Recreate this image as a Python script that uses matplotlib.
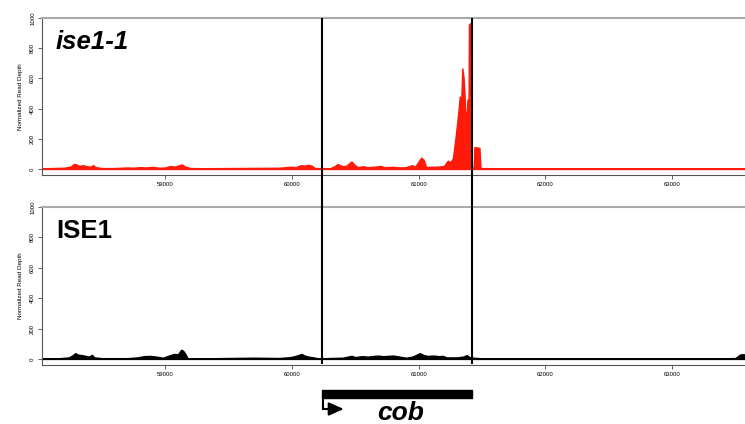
import matplotlib.pyplot as plt

# coverage tracks (position in bp, normalized read depth)
mut_pos = [58027, 58100, 58200, 58250, 58280, 58300, 58320, 58350, 58380, 58410,
           58430, 58450, 58500, 58600, 58700, 58750, 58800, 58850, 58900, 58950,
           59000, 59040, 59070, 59100, 59130, 59160, 59200, 59300, 59500, 59700,
           59900, 59990, 60030, 60070, 60100, 60130, 60160, 60180, 60300, 60340,
           60360, 60380, 60400, 60430, 60470, 60490, 60520, 60560, 60600, 60650,
           60700, 60730, 60800, 60850, 60900, 60950, 60970, 61000, 61020, 61040,
           61060, 61100, 61150, 61200, 61230, 61250, 61270, 61290, 61310, 61325,
           61335, 61345, 61355, 61362, 61370, 61380, 61388, 61393, 61397, 61405,
           61412, 61418, 61435, 61440, 61480, 61488, 61600, 63576]
mut_depth = [5, 6, 8, 15, 33, 30, 20, 25, 18, 15,
             25, 12, 6, 6, 10, 8, 12, 10, 14, 8,
             10, 20, 15, 22, 30, 15, 6, 5, 6, 7,
             8, 15, 12, 25, 22, 28, 20, 6, 5, 20,
             33, 25, 18, 22, 50, 30, 12, 18, 12, 15,
             20, 12, 14, 10, 12, 25, 12, 50, 75, 60,
             12, 15, 15, 20, 55, 45, 70, 200, 350, 480,
             420, 666, 600, 500, 320, 380, 460, 250, 955, 965,
             940, 10, 10, 145, 140, 6, 5, 5]

wt_pos = [58027, 58150, 58240, 58270, 58290, 58310, 58340, 58370, 58400, 58420,
          58440, 58500, 58700, 58780, 58830, 58880, 58930, 58980, 59040, 59070,
          59100, 59125, 59140, 59160, 59175, 59300, 59500, 59700, 59900, 59990,
          60030, 60075, 60100, 60130, 60170, 60200, 60234, 60300, 60400, 60470,
          60500, 60550, 60600, 60650, 60680, 60720, 60760, 60800, 60850, 60900,
          60950, 61010, 61040, 61070, 61120, 61160, 61190, 61220, 61300, 61350,
          61380, 61400, 61430, 61500, 63400, 63500, 63540, 63576]
wt_depth = [3, 4, 10, 25, 38, 28, 25, 20, 15, 27,
            10, 5, 5, 10, 18, 20, 15, 8, 25, 33,
            30, 60, 55, 30, 5, 4, 6, 8, 6, 12,
            20, 33, 22, 15, 10, 5, 4, 6, 8, 20,
            12, 18, 15, 20, 22, 18, 20, 22, 15, 8,
            15, 38, 25, 20, 22, 18, 20, 10, 10, 15,
            25, 12, 8, 4, 4, 6, 30, 30]

gene_start, gene_end = 60234, 61418
xticks = [59000, 60000, 61000, 62000, 63000]
yticks = [0, 200, 400, 600, 800, 1000]
xlim = (58027, 63576)

W, H = 745, 424
fig = plt.figure(figsize=(W / 100, H / 100), dpi=100)
plt.rcParams['font.family'] = ['Liberation Sans', 'DejaVu Sans']


def px_axes(left, top, right, bottom):
    return fig.add_axes([left / W, 1 - bottom / H, (right - left) / W, (bottom - top) / H])


def track(ax, pos, depth, color, label, italic):
    ax.fill_between(pos, 0, depth, color=color, lw=1.0, edgecolor=color)
    ax.set_xlim(*xlim)
    ax.set_ylim(-40, 1000)
    ax.set_xticks(xticks)
    ax.set_yticks(yticks)
    ax.tick_params(labelsize=4.3, length=3, width=0.6, color='#444444', pad=2)
    ax.tick_params(axis='y', labelrotation=90)
    for t in ax.get_yticklabels():
        t.set_va('center')
    ax.set_ylabel('Normalized Read Depth', fontsize=4.5, labelpad=5)
    ax.spines['right'].set_visible(False)
    ax.spines['top'].set_color('#aaaaaa')
    ax.spines['top'].set_linewidth(1.5)
    for s in ('left', 'bottom'):
        ax.spines[s].set_color('#555555')
        ax.spines[s].set_linewidth(0.8)
    ax.text(0.02, 0.805, label, transform=ax.transAxes, fontsize=18.5,
            fontweight='bold', style='italic' if italic else 'normal', va='baseline')


ax1 = px_axes(42, 18, 745, 175)
track(ax1, mut_pos, mut_depth, '#ff1a0a', 'ise1-1', True)
ax2 = px_axes(42, 207, 745, 365)
track(ax2, wt_pos, wt_depth, 'black', 'ISE1', False)

# gene boundary lines across both panels
ov = px_axes(42, 18, 745, 364)
ov.set_xlim(*xlim)
ov.set_ylim(0, 1)
ov.axis('off')
ov.patch.set_alpha(0)
for g in (gene_start, gene_end):
    ov.axvline(g, color='black', lw=1.5)

# gene model
gm = px_axes(42, 380, 745, 424)
gm.set_xlim(*xlim)
gm.set_ylim(0, 44)
gm.invert_yaxis()
gm.axis('off')
gm.broken_barh([(gene_start, gene_end - gene_start)], (10, 8), color='black')
gm.plot([gene_start + 8, gene_start + 8, gene_start + 100], [18, 29, 29],
        color='black', lw=1.5, solid_joinstyle='miter')
gm.annotate('', xy=(gene_start + 175, 29), xytext=(gene_start + 95, 29),
            arrowprops=dict(arrowstyle='-|>,head_length=0.9,head_width=0.4',
                            color='black', lw=1.5, shrinkA=0, shrinkB=0))
gm.text((gene_start + gene_end) / 2 + 30, 39.5, 'cob', fontsize=19, fontweight='bold',
        style='italic', ha='center', va='baseline')

fig.savefig('out.png', dpi=100)
